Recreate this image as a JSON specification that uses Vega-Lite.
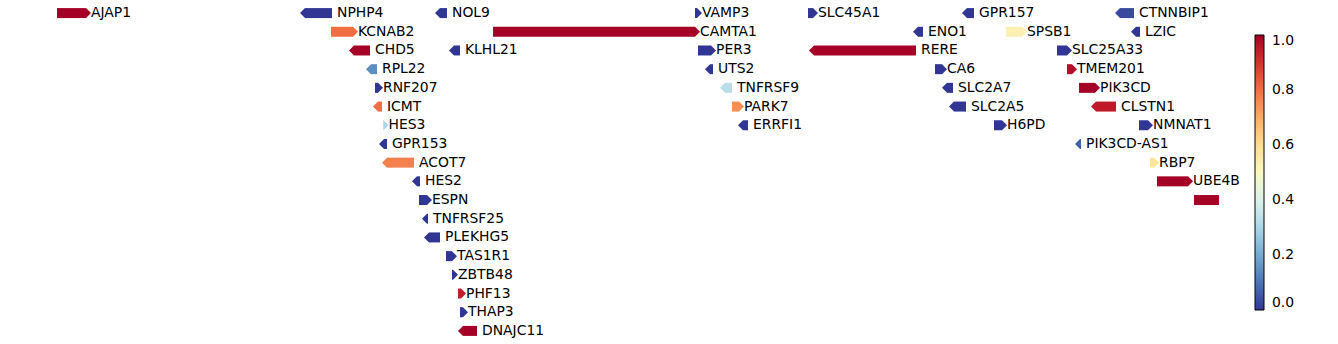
{
  "$schema": "https://vega.github.io/schema/vega-lite/v6.json",
  "width": 1338,
  "height": 344,
  "autosize": {"type": "none"},
  "padding": 0,
  "background": "white",
  "config": {"view": {"stroke": null}},
  "data": {"values": [
    {"row": 0, "gene": "AJAP1", "start": 57, "end": 86, "strand": "+", "value": 1.0},
    {"row": 0, "gene": "NPHP4", "start": 305, "end": 332, "strand": "-", "value": 0.0},
    {"row": 0, "gene": "NOL9", "start": 440, "end": 447, "strand": "-", "value": 0.0},
    {"row": 0, "gene": "VAMP3", "start": 695, "end": 697, "strand": "+", "value": 0.0},
    {"row": 0, "gene": "SLC45A1", "start": 808, "end": 813, "strand": "+", "value": 0.0},
    {"row": 0, "gene": "GPR157", "start": 967, "end": 974, "strand": "-", "value": 0.0},
    {"row": 0, "gene": "CTNNBIP1", "start": 1120, "end": 1134, "strand": "-", "value": 0.03},
    {"row": 1, "gene": "KCNAB2", "start": 331, "end": 353, "strand": "+", "value": 0.8},
    {"row": 1, "gene": "CAMTA1", "start": 493, "end": 695, "strand": "+", "value": 1.0},
    {"row": 1, "gene": "ENO1", "start": 918, "end": 923, "strand": "-", "value": 0.0},
    {"row": 1, "gene": "SPSB1", "start": 1006, "end": 1022, "strand": "+", "value": 0.53},
    {"row": 1, "gene": "LZIC", "start": 1136, "end": 1140, "strand": "-", "value": 0.0},
    {"row": 2, "gene": "CHD5", "start": 354, "end": 370, "strand": "-", "value": 1.0},
    {"row": 2, "gene": "KLHL21", "start": 454, "end": 460, "strand": "-", "value": 0.0},
    {"row": 2, "gene": "PER3", "start": 698, "end": 711, "strand": "+", "value": 0.0},
    {"row": 2, "gene": "RERE", "start": 814, "end": 916, "strand": "-", "value": 1.0},
    {"row": 2, "gene": "SLC25A33", "start": 1057, "end": 1067, "strand": "+", "value": 0.0},
    {"row": 3, "gene": "RPL22", "start": 371, "end": 377, "strand": "-", "value": 0.15},
    {"row": 3, "gene": "UTS2", "start": 710, "end": 713, "strand": "-", "value": 0.0},
    {"row": 3, "gene": "CA6", "start": 935, "end": 942, "strand": "+", "value": 0.0},
    {"row": 3, "gene": "TMEM201", "start": 1067, "end": 1072, "strand": "+", "value": 0.97},
    {"row": 4, "gene": "RNF207", "start": 375, "end": 378, "strand": "+", "value": 0.0},
    {"row": 4, "gene": "TNFRSF9", "start": 725, "end": 732, "strand": "-", "value": 0.33},
    {"row": 4, "gene": "SLC2A7", "start": 947, "end": 953, "strand": "-", "value": 0.0},
    {"row": 4, "gene": "PIK3CD", "start": 1079, "end": 1095, "strand": "+", "value": 1.0},
    {"row": 5, "gene": "ICMT", "start": 378, "end": 382, "strand": "-", "value": 0.8},
    {"row": 5, "gene": "PARK7", "start": 732, "end": 739, "strand": "+", "value": 0.75},
    {"row": 5, "gene": "SLC2A5", "start": 954, "end": 966, "strand": "-", "value": 0.0},
    {"row": 5, "gene": "CLSTN1", "start": 1096, "end": 1116, "strand": "-", "value": 0.95},
    {"row": 6, "gene": "HES3", "start": 383, "end": 383.5, "strand": "+", "value": 0.3},
    {"row": 6, "gene": "ERRFI1", "start": 743, "end": 748, "strand": "-", "value": 0.0},
    {"row": 6, "gene": "H6PD", "start": 994, "end": 1002, "strand": "+", "value": 0.0},
    {"row": 6, "gene": "NMNAT1", "start": 1139, "end": 1148, "strand": "+", "value": 0.0},
    {"row": 7, "gene": "GPR153", "start": 384, "end": 387, "strand": "-", "value": 0.0},
    {"row": 7, "gene": "PIK3CD-AS1", "start": 1080, "end": 1081, "strand": "-", "value": 0.07},
    {"row": 8, "gene": "ACOT7", "start": 387, "end": 414, "strand": "-", "value": 0.77},
    {"row": 8, "gene": "RBP7", "start": 1150, "end": 1154, "strand": "+", "value": 0.57},
    {"row": 9, "gene": "HES2", "start": 417, "end": 420, "strand": "-", "value": 0.0},
    {"row": 9, "gene": "UBE4B", "start": 1157, "end": 1188, "strand": "+", "value": 1.0},
    {"row": 10, "gene": "ESPN", "start": 419, "end": 427, "strand": "+", "value": 0.0},
    {"row": 10, "gene": "", "start": 1194, "end": 1219, "strand": ".", "value": 1.0},
    {"row": 11, "gene": "TNFRSF25", "start": 427, "end": 428, "strand": "-", "value": 0.0},
    {"row": 12, "gene": "PLEKHG5", "start": 429, "end": 440, "strand": "-", "value": 0.0},
    {"row": 13, "gene": "TAS1R1", "start": 446, "end": 452, "strand": "+", "value": 0.0},
    {"row": 14, "gene": "ZBTB48", "start": 452, "end": 453, "strand": "+", "value": 0.0},
    {"row": 15, "gene": "PHF13", "start": 458, "end": 461, "strand": "+", "value": 0.94},
    {"row": 16, "gene": "THAP3", "start": 460, "end": 463, "strand": "+", "value": 0.0},
    {"row": 17, "gene": "DNAJC11", "start": 463, "end": 477, "strand": "-", "value": 1.0}
  ]},
  "encoding": {
    "y": {"field": "row", "type": "ordinal", "axis": null,
          "scale": {"type": "band", "domain": [0,1,2,3,4,5,6,7,8,9,10,11,12,13,14,15,16,17], "paddingInner": 0, "paddingOuter": 0.2}}
  },
  "layer": [
    {
      "mark": {"type": "bar", "height": 10},
      "encoding": {
        "x": {"field": "start", "type": "quantitative", "axis": null, "scale": {"domain": [0, 1338], "nice": false, "zero": false}},
        "x2": {"field": "end"},
        "color": {"field": "value", "type": "quantitative",
          "scale": {"scheme": "redyellowblue", "reverse": true, "domain": [0, 1]},
          "legend": {"orient": "none", "legendX": 1255, "legendY": 35, "direction": "vertical", "title": null,
            "gradientLength": 275, "gradientThickness": 9, "gradientStrokeColor": "black", "gradientStrokeWidth": 1,
            "values": [0.027, 0.2, 0.4, 0.6, 0.8, 0.98], "format": ".1f", "labelOverlap": false,
            "labelFontSize": 13.9, "labelFont": "DejaVu Sans", "labelColor": "black", "labelOffset": 8, "padding": 0}}
      }
    },
    {
      "transform": [{"filter": "datum.strand == '+'"}],
      "mark": {"type": "point", "shape": "M0,-1L1,0L0,1Z", "size": 100, "filled": true, "opacity": 1, "strokeWidth": 0},
      "encoding": {
        "x": {"field": "end", "type": "quantitative"},
        "color": {"field": "value", "type": "quantitative"}
      }
    },
    {
      "transform": [{"filter": "datum.strand == '-'"}],
      "mark": {"type": "point", "shape": "M0,-1L-1,0L0,1Z", "size": 100, "filled": true, "opacity": 1, "strokeWidth": 0},
      "encoding": {
        "x": {"field": "start", "type": "quantitative"},
        "color": {"field": "value", "type": "quantitative"}
      }
    },
    {
      "mark": {"type": "text", "align": "left", "baseline": "middle", "dx": 5, "font": "DejaVu Sans", "fontSize": 13.9, "color": "black"},
      "encoding": {
        "x": {"field": "end", "type": "quantitative"},
        "text": {"field": "gene"}
      }
    }
  ]
}
